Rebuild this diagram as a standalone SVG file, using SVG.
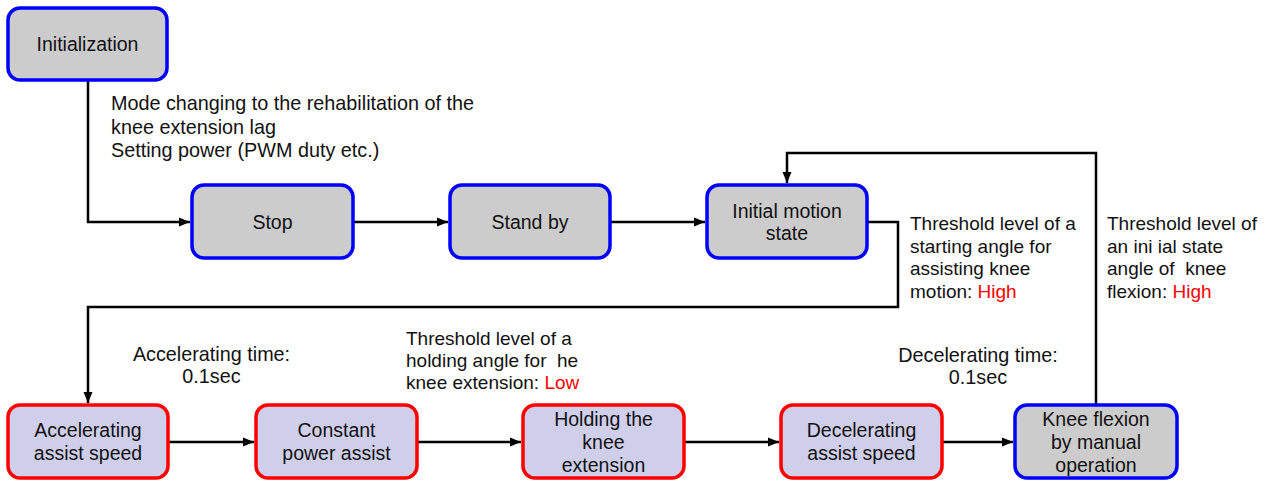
<svg xmlns="http://www.w3.org/2000/svg" width="1267" height="481" viewBox="0 0 1267 481">
<style>
text{font-family:"Liberation Sans",Arial,sans-serif;font-size:19px;fill:#111;white-space:pre}
.c{text-anchor:middle}
.b{font-size:19.5px}
.m{font-size:19.8px}
.r{fill:#ff0000}
.gb{fill:#cccccc;stroke:#0000ff;stroke-width:3.5}
.lr{fill:#cfcfec;stroke:#ff0000;stroke-width:3.5}
.ln{fill:none;stroke:#000;stroke-width:2.5}
</style>
<defs>
<marker id="ah" markerUnits="userSpaceOnUse" markerWidth="12" markerHeight="12" viewBox="0 0 12 12" refX="11" refY="6" orient="auto">
<path d="M0,1.5 L11,6 L0,10.5 Z" fill="#000"/>
</marker>
</defs>
<g id="connectors">
<path class="ln" d="M88 80 V222 H190" marker-end="url(#ah)"/>
<path class="ln" d="M353 222 H448" marker-end="url(#ah)"/>
<path class="ln" d="M610 222 H705" marker-end="url(#ah)"/>
<path class="ln" d="M867 222 H898 V307 H88 V403" marker-end="url(#ah)"/>
<path class="ln" d="M168 442 H254" marker-end="url(#ah)"/>
<path class="ln" d="M417 442 H521" marker-end="url(#ah)"/>
<path class="ln" d="M684 442 H779" marker-end="url(#ah)"/>
<path class="ln" d="M942 442 H1013" marker-end="url(#ah)"/>
<path class="ln" d="M1096 405 V153 H787 V183" marker-end="url(#ah)"/>
</g>
<g id="initialization">
<rect class="gb" x="8" y="8" width="159" height="72" rx="12"/>
<text class="c b" x="87.5" y="51">Initialization</text>
</g>
<g id="stop">
<rect class="gb" x="192" y="185" width="161" height="73" rx="12"/>
<text class="c b" x="272.5" y="228.5">Stop</text>
</g>
<g id="standby">
<rect class="gb" x="450" y="185" width="160" height="73" rx="12"/>
<text class="c b" x="530" y="228.5">Stand by</text>
</g>
<g id="initial-motion">
<rect class="gb" x="707" y="185" width="160" height="73" rx="12"/>
<text class="c b" x="787" y="217.5">Initial motion</text>
<text class="c b" x="787" y="240">state</text>
</g>
<g id="accelerating">
<rect class="lr" x="8" y="405" width="160" height="73" rx="12"/>
<text class="c b" x="88" y="437">Accelerating</text>
<text class="c b" x="88" y="460">assist speed</text>
</g>
<g id="constant">
<rect class="lr" x="256" y="405" width="161" height="73" rx="12"/>
<text class="c b" x="336.5" y="437">Constant</text>
<text class="c b" x="336.5" y="460">power assist</text>
</g>
<g id="holding">
<rect class="lr" x="523" y="405" width="161" height="73" rx="12"/>
<text class="c b" x="603.5" y="425.5">Holding the</text>
<text class="c b" x="603.5" y="448.5">knee</text>
<text class="c b" x="603.5" y="471.5">extension</text>
</g>
<g id="decelerating">
<rect class="lr" x="781" y="405" width="161" height="73" rx="12"/>
<text class="c b" x="861.5" y="437">Decelerating</text>
<text class="c b" x="861.5" y="460">assist speed</text>
</g>
<g id="knee-flexion">
<rect class="gb" x="1015" y="405" width="162" height="73" rx="12"/>
<text class="c b" x="1096" y="425.5">Knee flexion</text>
<text class="c b" x="1096" y="448.5">by manual</text>
<text class="c b" x="1096" y="471.5">operation</text>
</g>
<g id="labels">
<text class="m" x="111" y="110">Mode changing to the rehabilitation of the</text>
<text class="m" x="111" y="133.5">knee extension lag</text>
<text class="m" x="111" y="157">Setting power (PWM duty etc.)</text>
<text x="910" y="230">Threshold level of a</text>
<text x="910" y="252.5">starting angle for</text>
<text x="910" y="275">assisting knee</text>
<text x="910" y="297.5">motion: <tspan class="r">High</tspan></text>
<text x="1107" y="230">Threshold level of</text>
<text x="1107" y="252.5">an ini ial state</text>
<text x="1107" y="275">angle of  knee</text>
<text x="1107" y="297.5">flexion: <tspan class="r">High</tspan></text>
<text class="c m" x="211.5" y="361">Accelerating time:</text>
<text class="c m" x="211.5" y="383">0.1sec</text>
<text x="406" y="345">Threshold level of a</text>
<text x="406" y="367">holding angle for  he</text>
<text x="406" y="389">knee extension: <tspan class="r">Low</tspan></text>
<text class="c m" x="978" y="362">Decelerating time:</text>
<text class="c m" x="978" y="384">0.1sec</text>
</g>
</svg>
